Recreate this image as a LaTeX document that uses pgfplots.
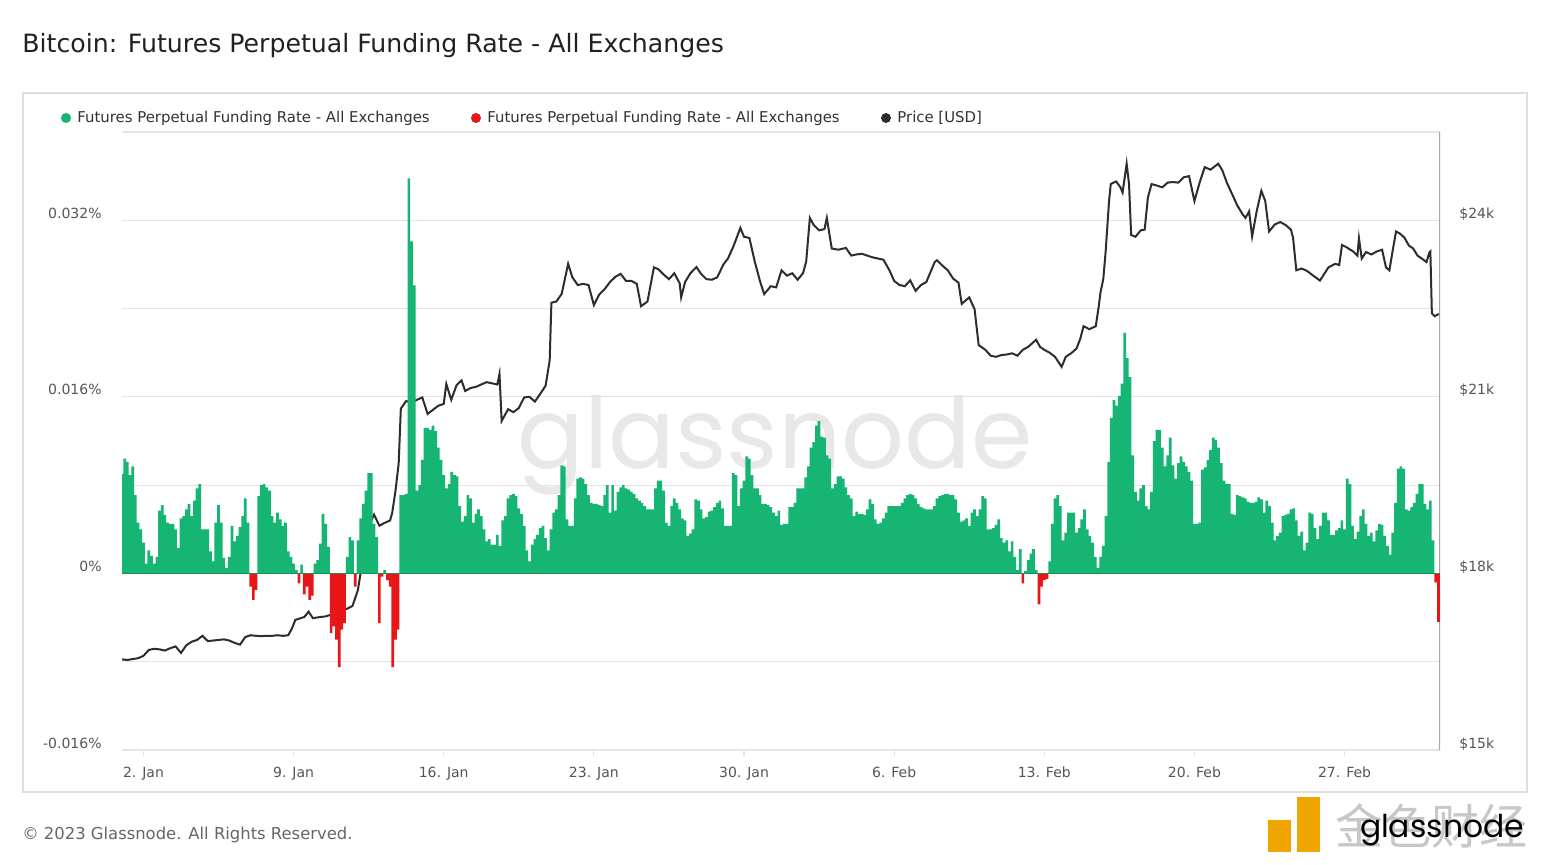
\documentclass[border=0pt]{standalone}
\usepackage{fontspec}
\setmainfont{DejaVu Sans}
\newfontfamily\wmfont{Poppins}
\newfontfamily\cjk{Noto Sans CJK SC}
\usepackage{pgfplots}
\usepackage{pgfplotstable}
\pgfplotsset{compat=1.18}

\definecolor{fgreen}{RGB}{22,181,116}
\definecolor{fred}{RGB}{232,22,22}
\definecolor{pline}{RGB}{45,45,45}
\definecolor{gridc}{RGB}{228,228,228}
\definecolor{tickc}{RGB}{85,85,85}
\definecolor{zerol}{RGB}{30,140,90}
\definecolor{logoor}{RGB}{240,165,0}

% funding rate in %, x = days since 1 Jan 2023 00:00, 3-hourly
\pgfplotstableread{
d r
0 0.0090
0.125 0.0104
0.25 0.0101
0.375 0.0089
0.5 0.0097
0.625 0.0071
0.75 0.0046
0.875 0.0040
1 0.0028
1.125 0.0009
1.25 0.0021
1.375 0.0016
1.5 0.0009
1.625 0.0015
1.75 0.0057
1.875 0.0062
2 0.0053
2.125 0.0046
2.25 0.0045
2.375 0.0045
2.5 0.0040
2.625 0.0023
2.75 0.0050
2.875 0.0052
3 0.0058
3.125 0.0063
3.25 0.0052
3.375 0.0066
3.5 0.0077
3.625 0.0081
3.75 0.0040
3.875 0.0040
4 0.0040
4.125 0.0020
4.25 0.0011
4.375 0.0046
4.5 0.0062
4.625 0.0046
4.75 0.0014
4.875 0.0005
5 0.0015
5.125 0.0043
5.25 0.0029
5.375 0.0034
5.5 0.0042
5.625 0.0052
5.75 0.0068
5.875 0.0046
6 -0.0012
6.125 -0.0024
6.25 -0.0015
6.375 0.0070
6.5 0.0080
6.625 0.0081
6.75 0.0078
6.875 0.0075
7 0.0052
7.125 0.0046
7.25 0.0055
7.375 0.0049
7.5 0.0043
7.625 0.0046
7.75 0.0020
7.875 0.0015
8 0.0009
8.125 0.0003
8.25 -0.0009
8.375 0.0008
8.5 -0.0019
8.625 -0.0012
8.75 -0.0024
8.875 -0.0020
9 0.0009
9.125 0.0012
9.25 0.0027
9.375 0.0054
9.5 0.0045
9.625 0.0024
9.75 -0.0054
9.875 -0.0048
10 -0.0060
10.125 -0.0085
10.25 -0.0051
10.375 -0.0045
10.5 0.0015
10.625 0.0033
10.75 0.0030
10.875 -0.0012
11 0.0030
11.125 0.0050
11.25 0.0063
11.375 0.0075
11.5 0.0091
11.625 0.0091
11.75 0.0045
11.875 0.0033
12 -0.0045
12.125 -0.0003
12.25 0.0003
12.375 -0.0006
12.5 -0.0012
12.625 -0.0085
12.75 -0.0060
12.875 -0.0051
13 0.0071
13.125 0.0071
13.25 0.0072
13.375 0.0358
13.5 0.0301
13.625 0.0261
13.75 0.0075
13.875 0.0080
14 0.0103
14.125 0.0132
14.25 0.0132
14.375 0.0130
14.5 0.0134
14.625 0.0129
14.75 0.0114
14.875 0.0103
15 0.0089
15.125 0.0077
15.25 0.0081
15.375 0.0092
15.5 0.0089
15.625 0.0088
15.75 0.0061
15.875 0.0047
16 0.0052
16.125 0.0071
16.25 0.0068
16.375 0.0046
16.5 0.0054
16.625 0.0058
16.75 0.0052
16.875 0.0040
17 0.0029
17.125 0.0031
17.25 0.0026
17.375 0.0026
17.5 0.0035
17.625 0.0025
17.75 0.0048
17.875 0.0052
18 0.0068
18.125 0.0071
18.25 0.0072
18.375 0.0070
18.5 0.0059
18.625 0.0054
18.75 0.0043
18.875 0.0021
19 0.0011
19.125 0.0026
19.25 0.0031
19.375 0.0035
19.5 0.0041
19.625 0.0043
19.75 0.0032
19.875 0.0021
20 0.0040
20.125 0.0055
20.25 0.0058
20.375 0.0071
20.5 0.0098
20.625 0.0097
20.75 0.0049
20.875 0.0043
21 0.0043
21.125 0.0068
21.25 0.0086
21.375 0.0087
21.5 0.0086
21.625 0.0081
21.75 0.0071
21.875 0.0064
22 0.0063
22.125 0.0063
22.25 0.0062
22.375 0.0061
22.5 0.0071
22.625 0.0080
22.75 0.0055
22.875 0.0080
23 0.0057
23.125 0.0074
23.25 0.0078
23.375 0.0080
23.5 0.0077
23.625 0.0076
23.75 0.0074
23.875 0.0072
24 0.0068
24.125 0.0066
24.25 0.0064
24.375 0.0061
24.5 0.0058
24.625 0.0058
24.75 0.0058
24.875 0.0077
25 0.0084
25.125 0.0084
25.25 0.0075
25.375 0.0046
25.5 0.0043
25.625 0.0061
25.75 0.0068
25.875 0.0064
26 0.0058
26.125 0.0050
26.25 0.0048
26.375 0.0034
26.5 0.0036
26.625 0.0040
26.75 0.0067
26.875 0.0066
27 0.0058
27.125 0.0050
27.25 0.0051
27.375 0.0056
27.5 0.0057
27.625 0.0060
27.75 0.0064
27.875 0.0066
28 0.0059
28.125 0.0043
28.25 0.0043
28.375 0.0043
28.5 0.0091
28.625 0.0089
28.75 0.0061
28.875 0.0077
29 0.0084
29.125 0.0106
29.25 0.0104
29.375 0.0089
29.5 0.0077
29.625 0.0077
29.75 0.0071
29.875 0.0063
30 0.0063
30.125 0.0062
30.25 0.0060
30.375 0.0055
30.5 0.0052
30.625 0.0057
30.75 0.0044
30.875 0.0045
31 0.0045
31.125 0.0060
31.25 0.0060
31.375 0.0064
31.5 0.0077
31.625 0.0077
31.75 0.0077
31.875 0.0087
32 0.0097
32.125 0.0114
32.25 0.0119
32.375 0.0134
32.5 0.0138
32.625 0.0124
32.75 0.0123
32.875 0.0107
33 0.0104
33.125 0.0077
33.25 0.0081
33.375 0.0088
33.5 0.0088
33.625 0.0086
33.75 0.0078
33.875 0.0071
34 0.0068
34.125 0.0052
34.25 0.0056
34.375 0.0054
34.5 0.0054
34.625 0.0053
34.75 0.0058
34.875 0.0067
35 0.0063
35.125 0.0049
35.25 0.0045
35.375 0.0046
35.5 0.0050
35.625 0.0055
35.75 0.0061
35.875 0.0061
36 0.0061
36.125 0.0061
36.25 0.0061
36.375 0.0064
36.5 0.0068
36.625 0.0071
36.75 0.0072
36.875 0.0071
37 0.0068
37.125 0.0063
37.25 0.0060
37.375 0.0059
37.5 0.0058
37.625 0.0058
37.75 0.0058
37.875 0.0061
38 0.0068
38.125 0.0070
38.25 0.0071
38.375 0.0072
38.5 0.0072
38.625 0.0071
38.75 0.0071
38.875 0.0067
39 0.0055
39.125 0.0047
39.25 0.0048
39.375 0.0050
39.5 0.0043
39.625 0.0055
39.75 0.0058
39.875 0.0052
40 0.0058
40.125 0.0070
40.25 0.0068
40.375 0.0040
40.5 0.0040
40.625 0.0041
40.75 0.0044
40.875 0.0049
41 0.0032
41.125 0.0028
41.25 0.0030
41.375 0.0020
41.5 0.0029
41.625 0.0015
41.75 0.0003
41.875 0.0022
42 -0.0009
42.125 0.0002
42.25 0.0012
42.375 0.0018
42.5 0.0022
42.625 0.0003
42.75 -0.0028
42.875 -0.0012
43 -0.0006
43.125 -0.0005
43.25 0.0011
43.375 0.0045
43.5 0.0068
43.625 0.0071
43.75 0.0061
43.875 0.0030
44 0.0037
44.125 0.0055
44.25 0.0055
44.375 0.0055
44.5 0.0037
44.625 0.0041
44.75 0.0049
44.875 0.0058
45 0.0040
45.125 0.0034
45.25 0.0028
45.375 0.0015
45.5 0.0005
45.625 0.0015
45.75 0.0025
45.875 0.0052
46 0.0101
46.125 0.0141
46.25 0.0157
46.375 0.0152
46.5 0.0161
46.625 0.0172
46.75 0.0218
46.875 0.0195
47 0.0178
47.125 0.0107
47.25 0.0074
47.375 0.0066
47.5 0.0077
47.625 0.0080
47.75 0.0061
47.875 0.0058
48 0.0074
48.125 0.0120
48.25 0.0130
48.375 0.0130
48.5 0.0114
48.625 0.0097
48.75 0.0107
48.875 0.0123
49 0.0098
49.125 0.0086
49.25 0.0100
49.375 0.0106
49.5 0.0101
49.625 0.0097
49.75 0.0092
49.875 0.0084
50 0.0045
50.125 0.0045
50.25 0.0046
50.375 0.0094
50.5 0.0096
50.625 0.0103
50.75 0.0112
50.875 0.0123
51 0.0121
51.125 0.0114
51.25 0.0100
51.375 0.0084
51.5 0.0081
51.625 0.0081
51.75 0.0054
51.875 0.0053
52 0.0071
52.125 0.0070
52.25 0.0069
52.375 0.0068
52.5 0.0065
52.625 0.0064
52.75 0.0064
52.875 0.0065
53 0.0069
53.125 0.0067
53.25 0.0055
53.375 0.0066
53.5 0.0061
53.625 0.0046
53.75 0.0030
53.875 0.0034
54 0.0037
54.125 0.0052
54.25 0.0053
54.375 0.0054
54.5 0.0058
54.625 0.0059
54.75 0.0048
54.875 0.0034
55 0.0038
55.125 0.0021
55.25 0.0028
55.375 0.0055
55.5 0.0054
55.625 0.0041
55.75 0.0031
55.875 0.0043
56 0.0055
56.125 0.0055
56.25 0.0048
56.375 0.0035
56.5 0.0035
56.625 0.0039
56.75 0.0041
56.875 0.0048
57 0.0040
57.125 0.0086
57.25 0.0081
57.375 0.0043
57.5 0.0031
57.625 0.0038
57.75 0.0052
57.875 0.0058
58 0.0045
58.125 0.0034
58.25 0.0037
58.375 0.0029
58.5 0.0039
58.625 0.0045
58.75 0.0044
58.875 0.0034
59 0.0025
59.125 0.0017
59.25 0.0037
59.375 0.0064
59.5 0.0095
59.625 0.0097
59.75 0.0095
59.875 0.0058
60 0.0057
60.125 0.0060
60.25 0.0064
60.375 0.0072
60.5 0.0081
60.625 0.0081
60.75 0.0063
60.875 0.0058
61 0.0066
61.125 0.0030
61.25 -0.0008
61.375 -0.0044
}\ratetab

% BTC price in USD
\pgfplotstableread{
d p
0 16540
0.25 16530
0.5 16545
0.75 16560
1 16600
1.25 16700
1.5 16720
1.75 16710
2 16690
2.25 16730
2.5 16760
2.75 16650
3 16780
3.25 16840
3.5 16870
3.75 16940
4 16850
4.25 16860
4.5 16870
4.75 16880
5 16860
5.25 16820
5.5 16790
5.75 16920
6 16950
6.25 16940
6.5 16935
6.75 16940
7 16940
7.25 16950
7.5 16940
7.75 16950
7.92 17060
8.08 17210
8.25 17230
8.5 17260
8.7 17350
8.9 17240
9.25 17260
9.5 17270
9.75 17300
10 17350
10.25 17380
10.5 17400
10.75 17450
11 17720
11.25 18300
11.5 18800
11.75 19000
12 18810
12.25 18860
12.5 18900
12.6 19035
12.75 19400
12.9 19870
13 20800
13.25 20930
13.5 20900
13.75 20950
14 20990
14.25 20710
14.5 20780
14.75 20850
15 20880
15.12 21220
15.35 20950
15.6 21200
15.83 21280
16 21100
16.25 21150
16.5 21170
16.75 21210
17 21250
17.25 21230
17.5 21210
17.6 21390
17.7 20590
18 20790
18.25 20740
18.5 20810
18.75 20990
19 21000
19.25 20920
19.5 21050
19.75 21190
19.94 21620
20.02 22600
20.25 22620
20.5 22750
20.8 23260
21 23030
21.25 22900
21.5 22920
21.75 22900
22 22560
22.25 22740
22.5 22830
22.75 22950
23 23040
23.25 23090
23.5 22970
23.75 22970
24 22920
24.2 22540
24.5 22620
24.8 23200
25 23170
25.25 23080
25.5 23000
25.75 23100
26 22930
26.07 22690
26.25 22950
26.5 23100
26.78 23206
27 23090
27.25 23000
27.5 22990
27.75 23030
28.04 23250
28.25 23350
28.5 23550
28.83 23870
29 23720
29.25 23700
29.5 23300
29.75 22960
29.94 22746
30.25 22880
30.5 22860
30.75 23150
31 23060
31.25 23100
31.5 22990
31.75 23100
31.9 23300
32.07 24040
32.25 23920
32.5 23830
32.75 23850
32.86 24040
33.09 23520
33.4 23500
33.75 23530
34 23400
34.25 23420
34.5 23430
34.75 23400
35 23370
35.25 23350
35.5 23330
35.78 23150
36 22970
36.25 22900
36.5 22880
36.75 22980
37 22800
37.25 22900
37.5 22950
37.89 23290
38 23321
38.25 23230
38.5 23150
38.75 23010
39 22940
39.15 22580
39.5 22690
39.75 22490
39.94 21880
40.25 21800
40.5 21700
40.75 21680
41 21710
41.25 21720
41.5 21740
41.75 21700
42 21800
42.25 21850
42.62 21970
42.8 21850
43 21800
43.25 21750
43.5 21680
43.81 21510
44 21680
44.25 21740
44.5 21820
44.68 21990
44.83 22200
45.1 22150
45.4 22200
45.54 22540
45.62 22775
45.75 23000
45.86 23465
46.02 24330
46.1 24616
46.35 24660
46.55 24560
46.65 24472
46.84 24961
46.95 24620
47.05 23750
47.25 23720
47.5 23830
47.68 23840
47.83 24386
48 24616
48.25 24590
48.5 24560
48.75 24640
49 24650
49.25 24640
49.5 24731
49.75 24750
50 24328
50.25 24650
50.48 24903
50.75 24860
51.11 24961
51.3 24850
51.51 24640
51.75 24450
52 24250
52.25 24100
52.38 24040
52.55 24150
52.69 23724
52.9 24150
53.12 24501
53.3 24330
53.48 23810
53.75 23930
54 23970
54.25 23920
54.5 23840
54.6 23700
54.75 23150
55 23180
55.25 23140
55.5 23070
55.85 22976
56 23060
56.25 23200
56.56 23260
56.75 23240
56.88 23580
57.1 23540
57.4 23470
57.6 23400
57.67 23695
57.8 23350
58 23460
58.25 23420
58.5 23470
58.75 23500
58.93 23200
59.09 23149
59.25 23500
59.4 23810
59.6 23770
59.8 23700
60 23570
60.2 23520
60.4 23400
60.6 23350
60.82 23290
60.95 23450
61 23470
61.07 22420
61.2 22370
61.4 22410
}\pricetab

\begin{document}
% 1 unit = 1 px of the reference; y counts up from the bottom edge
\begin{tikzpicture}[x=0.5pt,y=0.5pt]
\fill[white] (0,0) rectangle (1552,864);
\draw[black!13, line width=0.6pt] (23,771) rectangle (1527,72);

% title
\node[anchor=base west, inner sep=0pt, text=black!87,
  font=\fontsize{12.6}{14}\selectfont] at (22,811)
  {Bitcoin: Futures Perpetual Funding Rate - All Exchanges};

% legend
\fill[fgreen] (66,746) circle (5);
\fill[fred] (476,746) circle (5);
\fill[pline] (886,746) circle (5);
\begin{scope}[every node/.style={anchor=base west, inner sep=0pt,
    text=black!80, font=\fontsize{7.45}{9}\selectfont}]
  \node at (77,741) {Futures Perpetual Funding Rate - All Exchanges};
  \node at (487,741) {Futures Perpetual Funding Rate - All Exchanges};
  \node at (897,741) {Price [USD]};
\end{scope}

% watermark
\node[inner sep=0pt, text=black!9] at (775,419)
  {\resizebox{257pt}{!}{\wmfont glassnode}};

% price axis (drawn first, bars sit on top)
\begin{axis}[
  at={(61pt,57pt)}, anchor=south west,
  scale only axis, width=659pt, height=309pt,
  xmin=0, xmax=61.45,
  ymin=15000, ymax=25500,
  axis line style={draw=none},
  ytick={15000,16500,18000,19500,21000,22500,24000,25500},
  yticklabels={\$15k,{},\$18k,{},\$21k,{},\$24k,{}},
  yticklabel pos=right,
  ytick style={draw=none},
  ymajorgrids,
  major grid style={gridc, line width=0.6pt},
  yticklabel style={anchor=base west, inner sep=0pt, xshift=6.5pt, yshift=1pt,
    text=tickc, font=\fontsize{7}{8}\selectfont},
  xtick={1,8,15,22,29,36,43,50,57},
  xticklabels={2. Jan,9. Jan,16. Jan,23. Jan,30. Jan,6. Feb,13. Feb,20. Feb,27. Feb},
  xtick pos=bottom, tick align=outside,
  major tick length=3pt,
  x tick style={gridc, line width=0.6pt},
  xticklabel style={anchor=base, inner sep=0pt, yshift=-10.5pt,
    text=tickc, font=\fontsize{7}{8}\selectfont},
  scaled y ticks=false,
]
\addplot[pline, line width=1pt] table[x=d, y=p] {\pricetab};
\draw[black!35, line width=1pt] (rel axis cs:1,0) -- (rel axis cs:1,1);
\end{axis}

% funding rate axis
\begin{axis}[
  at={(61pt,57pt)}, anchor=south west,
  scale only axis, width=659pt, height=309pt,
  xmin=0, xmax=61.45,
  ymin=-0.016, ymax=0.04,
  axis line style={draw=none},
  xtick=\empty,
  ytick={-0.016,0,0.016,0.032},
  yticklabels={-0.016\%,0\%,0.016\%,0.032\%},
  ytick style={draw=none},
  yticklabel style={anchor=base east, inner sep=0pt, xshift=-10pt, yshift=1pt,
    text=tickc, font=\fontsize{7}{8}\selectfont},
  scaled y ticks=false,
]
\addplot[ybar, bar width=0.125, fill=fgreen, draw=none,
  restrict y to domain=0:1] table[x=d, y=r] {\ratetab};
\addplot[ybar, bar width=0.125, fill=fred, draw=none,
  restrict y to domain=-1:0] table[x=d, y=r] {\ratetab};
\addplot[zerol, line width=0.8pt] coordinates {(0,0) (61.45,0)};
\end{axis}

% footer
\node[anchor=base west, inner sep=0pt, text=black!60,
  font=\fontsize{8.2}{10}\selectfont] at (22,25)
  {© 2023 Glassnode. All Rights Reserved.};

% corner logo
\fill[logoor] (1297,67) rectangle (1320,12);
\fill[logoor] (1268,44) rectangle (1291,12);
\node[inner sep=0pt, text=black!22] at (1431,38)
  {\resizebox{96pt}{!}{\cjk 金色财经}};
\node[inner sep=0pt, text=black] at (1442,34)
  {\resizebox{82pt}{!}{\wmfont glassnode}};
\end{tikzpicture}
\end{document}
